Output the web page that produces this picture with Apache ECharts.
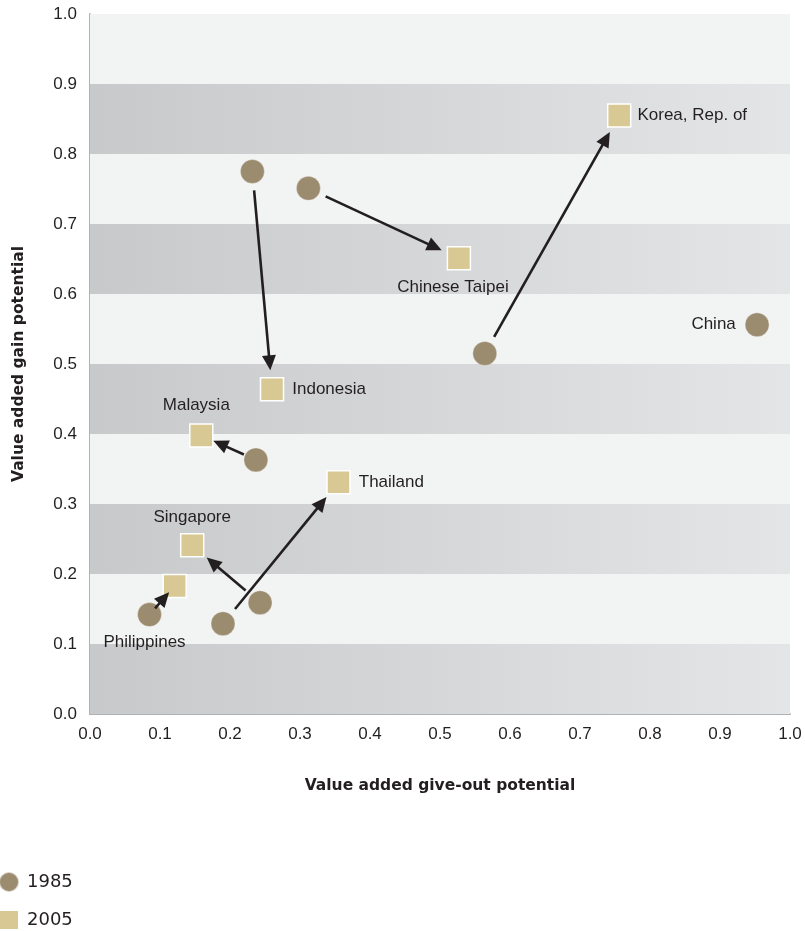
<!DOCTYPE html>
<html>
<head>
<meta charset="utf-8">
<script src="https://cdn.jsdelivr.net/npm/echarts@6/dist/echarts.min.js"></script>
<style>
html,body{margin:0;padding:0;background:#fff;}
#chart{width:805px;height:931px;}
</style>
</head>
<body>
<div id="chart"></div>
<script>
// ---- data ----
var countries = ['Korea, Rep. of', 'Chinese Taipei', 'China', 'Indonesia', 'Malaysia', 'Thailand', 'Singapore', 'Philippines'];
var x1985 = [0.564, 0.312, 0.953, 0.232, 0.237, 0.190, 0.243, 0.085];
var y1985 = [0.515, 0.751, 0.556, 0.775, 0.363, 0.129, 0.159, 0.142];
var x2005 = [0.756, 0.527, null, 0.260, 0.159, 0.355, 0.146, 0.121];
var y2005 = [0.855, 0.651, null, 0.464, 0.398, 0.331, 0.241, 0.183];
var tickValues = [0.0, 0.1, 0.2, 0.3, 0.4, 0.5, 0.6, 0.7, 0.8, 0.9, 1.0];
var xTitle = 'Value added give-out potential';
var yTitle = 'Value added gain potential';
var years = ['1985', '2005'];

// ---- styles ----
var TXT = '#231f20';
var FONT = 'Liberation Sans, Arial, Helvetica, sans-serif';
var labelStyle = {
  'Korea, Rep. of': {year: '2005', position: 'right', distance: 6},
  'China': {year: '1985', position: 'left', distance: 9},
  'Chinese Taipei': {year: '2005', position: 'bottom', distance: 8, offset: [-6, 0]},
  'Indonesia': {year: '2005', position: 'right', distance: 8},
  'Malaysia': {year: '2005', position: 'top', distance: 9, offset: [-5, 0]},
  'Thailand': {year: '2005', position: 'right', distance: 8},
  'Singapore': {year: '2005', position: 'top', distance: 7},
  'Philippines': {year: '1985', position: 'bottom', distance: 7, offset: [-5, 0]}
};

function makePoints(xs, ys, year) {
  var out = [];
  for (var i = 0; i < countries.length; i++) {
    if (xs[i] == null) continue;
    var item = {name: countries[i], value: [xs[i], ys[i]]};
    var ls = labelStyle[countries[i]];
    if (ls && ls.year === year) {
      item.label = {
        show: true, formatter: '{b}', position: ls.position, distance: ls.distance,
        offset: ls.offset || [0, 0], color: TXT, fontSize: 17, fontFamily: FONT
      };
    }
    out.push(item);
  }
  return out;
}

var arrowData = [];
for (var i = 0; i < countries.length; i++) {
  if (x2005[i] == null) continue;
  arrowData.push([x1985[i], y1985[i], x2005[i], y2005[i]]);
}

// background bands
var bands = [];
for (var k = 0; k < tickValues.length - 1; k++) {
  var dark = (k % 2 === 0);
  bands.push([
    {yAxis: tickValues[k], itemStyle: {
      color: dark ? new echarts.graphic.LinearGradient(0, 0, 1, 0, [
        {offset: 0, color: '#c8c9cb'}, {offset: 1, color: '#e4e5e7'}]) : '#f2f3f3'
    }},
    {yAxis: tickValues[k + 1]}
  ]);
}

var chart = echarts.init(document.getElementById('chart'), null, {renderer: 'canvas'});

function renderArrow(params, api) {
  var p1 = api.coord([api.value(0), api.value(1)]);
  var p2 = api.coord([api.value(2), api.value(3)]);
  var dx = p2[0] - p1[0], dy = p2[1] - p1[1];
  var d = Math.sqrt(dx * dx + dy * dy);
  var ux = dx / d, uy = dy / d;
  var t = Math.min(19, d * 0.22);
  var s = [p1[0] + ux * t, p1[1] + uy * t];
  var e = [p2[0] - ux * t, p2[1] - uy * t];
  var L = 15, W = 7;
  var b = [e[0] - ux * L, e[1] - uy * L];
  var px = -uy, py = ux;
  return {
    type: 'group',
    children: [
      {type: 'line', shape: {x1: s[0], y1: s[1], x2: b[0] + ux * 2, y2: b[1] + uy * 2},
       style: {stroke: TXT, lineWidth: 2.6}},
      {type: 'polygon', shape: {points: [e, [b[0] + px * W, b[1] + py * W], [b[0] - px * W, b[1] - py * W]]},
       style: {fill: TXT}}
    ]
  };
}

var legendText = {color: TXT, fontSize: 18, fontFamily: 'DejaVu Sans, sans-serif', padding: [0, 0, 0, 3]};

var option = {
  animation: false,
  backgroundColor: '#ffffff',
  grid: {left: 90, right: 15, top: 14, bottom: 217, containLabel: false},
  legend: [
    {left: -2, top: 871, padding: 0, itemWidth: 20, itemHeight: 20,
     textStyle: legendText, data: [{name: years[0], icon: 'circle'}], selectedMode: false},
    {left: -2, top: 909, padding: 0, itemWidth: 20, itemHeight: 20,
     textStyle: legendText, data: [{name: years[1], icon: 'rect'}], selectedMode: false}
  ],
  xAxis: {
    type: 'value', min: 0, max: 1, interval: 0.1,
    name: xTitle, nameLocation: 'middle', nameGap: 64,
    nameTextStyle: {color: TXT, fontSize: 15.5, fontWeight: 'bold', fontFamily: 'DejaVu Sans, sans-serif'},
    axisLine: {show: true, lineStyle: {color: '#b1b2b4', width: 2}},
    axisTick: {show: false},
    splitLine: {show: false},
    axisLabel: {color: TXT, fontSize: 17, fontFamily: FONT, margin: 12,
      formatter: function (v) { return v.toFixed(1); }}
  },
  yAxis: {
    type: 'value', min: 0, max: 1, interval: 0.1,
    name: yTitle, nameLocation: 'middle', nameGap: 63, nameRotate: 90,
    nameTextStyle: {color: TXT, fontSize: 15.5, fontWeight: 'bold', fontFamily: 'DejaVu Sans, sans-serif'},
    axisLine: {show: true, lineStyle: {color: '#b1b2b4', width: 2}},
    axisTick: {show: false},
    splitLine: {show: false},
    axisLabel: {color: TXT, fontSize: 17, fontFamily: FONT, margin: 13,
      formatter: function (v) { return v.toFixed(1); }}
  },
  series: [
    {
      name: 'bands', type: 'scatter', data: [], silent: true, z: 0,
      markArea: {silent: true, data: bands}
    },
    {
      name: years[0], type: 'scatter', symbol: 'circle', symbolSize: 24, z: 3,
      itemStyle: {color: '#9b8b6f', borderColor: 'rgba(255,255,255,0.6)', borderWidth: 0.6, opacity: 1},
      label: {show: false},
      data: makePoints(x1985, y1985, years[0])
    },
    {
      name: years[1], type: 'scatter', symbol: 'rect', symbolSize: 23, z: 3,
      itemStyle: {color: '#d8c893', borderColor: '#ffffff', borderWidth: 1.5, opacity: 1},
      label: {show: false},
      data: makePoints(x2005, y2005, years[1])
    },
    {
      name: 'arrows', type: 'custom', z: 5, silent: true,
      renderItem: renderArrow,
      encode: {x: [0, 2], y: [1, 3]},
      data: arrowData
    }
  ]
};
chart.setOption(option);
</script>
</body>
</html>
